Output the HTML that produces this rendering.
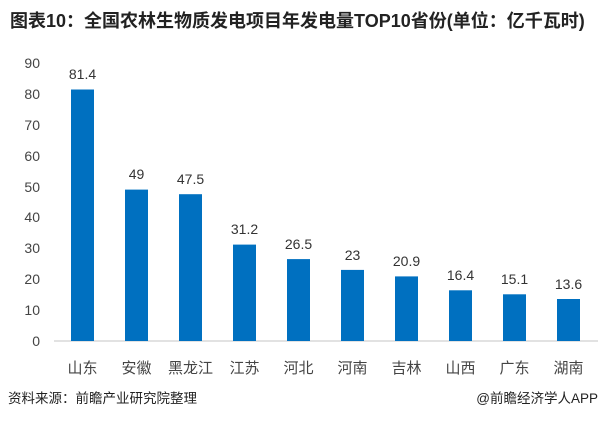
<!DOCTYPE html>
<html><head><meta charset="utf-8"><style>
body{margin:0;width:600px;height:420px;background:#fff;overflow:hidden;font-family:"Liberation Sans","Noto Sans CJK SC",sans-serif;}
</style></head><body>
<svg width="600" height="420" xmlns="http://www.w3.org/2000/svg" font-family="Liberation Sans, Noto Sans CJK SC, sans-serif">
<text x="10" y="27" font-size="18" font-weight="bold" fill="#222">图表10：全国农林生物质发电项目年发电量TOP10省份(单位：亿千瓦时)</text>
<g font-size="14" fill="#444" text-anchor="end">
<text x="40" y="346">0</text><text x="40" y="315">10</text><text x="40" y="284">20</text><text x="40" y="253">30</text><text x="40" y="222">40</text><text x="40" y="192">50</text><text x="40" y="161">60</text><text x="40" y="130">70</text><text x="40" y="99">80</text><text x="40" y="68">90</text>
</g>
<line x1="54" y1="341" x2="598" y2="341" stroke="#d9d9d9" stroke-width="1.5"/>
<g fill="#0070C0">
<rect x="71" y="89.5" width="23" height="251.5"/>
<rect x="125" y="189.6" width="23" height="151.4"/>
<rect x="179" y="194.2" width="23" height="146.8"/>
<rect x="233" y="244.6" width="23" height="96.4"/>
<rect x="287" y="259.1" width="23" height="81.9"/>
<rect x="341" y="269.9" width="23" height="71.1"/>
<rect x="395" y="276.4" width="23" height="64.6"/>
<rect x="449" y="290.3" width="23" height="50.7"/>
<rect x="503" y="294.3" width="23" height="46.7"/>
<rect x="557" y="299" width="23" height="42"/>
</g>
<g font-size="14" fill="#333" text-anchor="middle">
<text x="82.5" y="79">81.4</text><text x="136.5" y="179">49</text><text x="190.5" y="184">47.5</text><text x="244.5" y="234">31.2</text><text x="298.5" y="249">26.5</text><text x="352.5" y="260">23</text><text x="406.5" y="266">20.9</text><text x="460.5" y="280">16.4</text><text x="514.5" y="284">15.1</text><text x="568.5" y="289">13.6</text>
</g>
<g font-size="15" fill="#444" text-anchor="middle">
<text x="82.5" y="373">山东</text><text x="136.5" y="373">安徽</text><text x="190.5" y="373">黑龙江</text><text x="244.5" y="373">江苏</text><text x="298.5" y="373">河北</text><text x="352.5" y="373">河南</text><text x="406.5" y="373">吉林</text><text x="460.5" y="373">山西</text><text x="514.5" y="373">广东</text><text x="568.5" y="373">湖南</text>
</g>
<text x="8" y="403" font-size="13.5" fill="#222">资料来源：前瞻产业研究院整理</text>
<text x="598" y="403" font-size="13.5" fill="#222" text-anchor="end">@前瞻经济学人APP</text>
</svg>
</body></html>
